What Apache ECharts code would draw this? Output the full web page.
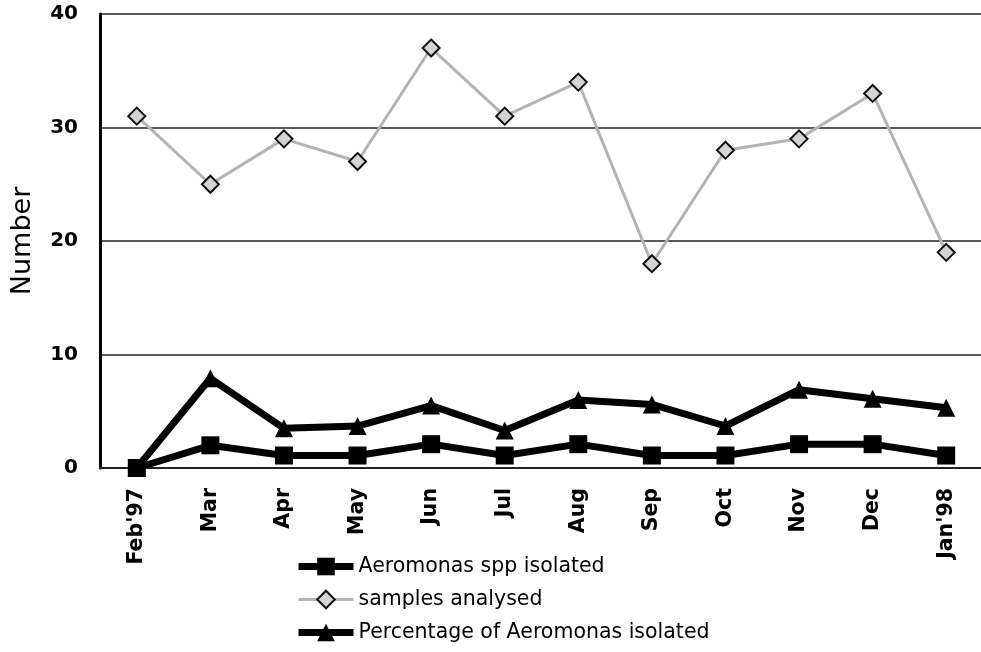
<!DOCTYPE html>
<html>
<head>
<meta charset="utf-8">
<script src="https://cdn.jsdelivr.net/npm/echarts@6/dist/echarts.min.js"></script>
<style>
  html, body { margin: 0; padding: 0; background: #fff; }
  #chart { width: 981px; height: 652px; }
</style>
</head>
<body>
<div id="chart"></div>
<script>
// 月份
var months = ["Feb'97", 'Mar', 'Apr', 'May', 'Jun', 'Jul', 'Aug', 'Sep', 'Oct', 'Nov', 'Dec', "Jan'98"];
// 三条线的数据
var aeromonasIsolated = [0, 2, 1.1, 1.1, 2.1, 1.1, 2.1, 1.1, 1.1, 2.1, 2.1, 1.1];
var samplesAnalysed = [31, 25, 29, 27, 37, 31, 34, 18, 28, 29, 33, 19];
var percentIsolated = [0, 7.9, 3.5, 3.7, 5.5, 3.3, 6.0, 5.6, 3.7, 6.9, 6.1, 5.3];
var yTicks = [0, 10, 20, 30, 40];

var font = 'DejaVu Sans';
var chart = echarts.init(document.getElementById('chart'));

var option = {
    backgroundColor: '#fff',
    animation: false,
    textStyle: { fontFamily: font, color: '#000' },
    grid: { left: 100, top: 14, width: 883, height: 454, outerBoundsMode: 'none', containLabel: false },
    legend: {
        orient: 'vertical',
        left: 295,
        top: 556,
        padding: 0,
        itemWidth: 55,
        itemHeight: 22,
        itemGap: 12,
        textStyle: { fontFamily: font, fontSize: 20.5, color: '#000', lineHeight: 20 },
        data: [
            { name: 'Aeromonas spp isolated', lineStyle: { width: 7, color: '#000' } },
            { name: 'samples analysed', lineStyle: { width: 3, color: '#b3b3b3' } },
            { name: 'Percentage of Aeromonas isolated', lineStyle: { width: 7, color: '#000' } }
        ]
    },
    xAxis: {
        type: 'category',
        data: months,
        boundaryGap: true,
        axisLine: { lineStyle: { color: '#222', width: 2 } },
        axisTick: { show: false },
        axisLabel: {
            rotate: 90,
            margin: 20,
            fontFamily: font,
            fontWeight: 'bold',
            fontSize: 20.5,
            color: '#000'
        }
    },
    yAxis: {
        type: 'value',
        min: yTicks[0],
        max: yTicks[yTicks.length - 1],
        interval: 10,
        name: 'Number',
        nameLocation: 'middle',
        nameRotate: 90,
        nameGap: 64,
        nameTextStyle: { fontFamily: font, fontSize: 27, color: '#000' },
        axisLine: { show: true, lineStyle: { color: '#000', width: 3 } },
        axisTick: { show: false },
        axisLabel: {
            margin: 22,
            fontFamily: font,
            fontWeight: 'bold',
            fontSize: 20,
            color: '#000'
        },
        splitLine: { lineStyle: { color: '#222', width: 1.5 } }
    },
    series: [
        {
            name: 'Aeromonas spp isolated',
            type: 'line',
            data: aeromonasIsolated,
            symbol: 'rect',
            symbolSize: 18,
            lineStyle: { color: '#000', width: 7 },
            itemStyle: { color: '#000' },
            z: 4
        },
        {
            name: 'samples analysed',
            type: 'line',
            data: samplesAnalysed,
            symbol: 'diamond',
            symbolSize: 17,
            lineStyle: { color: '#b3b3b3', width: 3 },
            itemStyle: { color: '#d4d4d4', borderColor: '#111', borderWidth: 2 },
            z: 3
        },
        {
            name: 'Percentage of Aeromonas isolated',
            type: 'line',
            data: percentIsolated,
            symbol: 'triangle',
            symbolSize: 18,
            lineStyle: { color: '#000', width: 7 },
            itemStyle: { color: '#000' },
            z: 4
        }
    ]
};

chart.setOption(option);
</script>
</body>
</html>
